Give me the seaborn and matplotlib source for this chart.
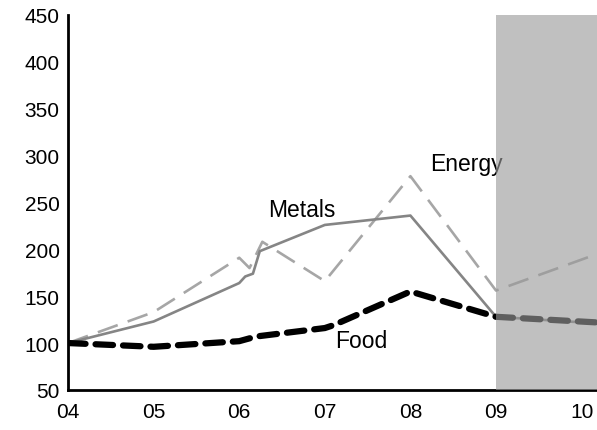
import pandas as pd
import numpy as np
import matplotlib
matplotlib.use("Agg")
import matplotlib.pyplot as plt
import seaborn as sns

# data (x in years since 2000)
metals_x = [4, 5, 6, 6.07, 6.16, 6.24, 7, 8, 9, 10.18]
metals_y = [100, 123, 164, 171, 174, 198, 226, 236, 128, 121]

energy_x = [4, 5, 6, 6.12, 6.27, 7, 8, 9, 10.18]
energy_y = [100, 133, 191, 180, 208, 166, 278, 156, 195]

food_x = [4, 5, 6, 6.2, 7, 7.1, 8, 9, 10.18]
food_y = [100, 96, 102, 107, 116, 119, 155, 128, 122]

tick_years = [4, 5, 6, 7, 8, 9, 10]
tick_labels = ["04", "05", "06", "07", "08", "09", "10"]

sns.set_style("white")
plt.rcParams['font.family'] = ['Liberation Sans', 'DejaVu Sans']

fig = plt.figure(figsize=(5.97, 4.31), dpi=100)
ax = fig.add_axes([0.114, 0.093, 0.886, 0.870])

sns.lineplot(x=energy_x, y=energy_y, ax=ax, color='#a6a6a6', linewidth=1.9,
             sort=False, linestyle=(0, (8, 4)))
sns.lineplot(x=metals_x, y=metals_y, ax=ax, color='#858585', linewidth=1.9, sort=False)
sns.lineplot(x=food_x, y=food_y, ax=ax, color='black', linewidth=4.5, sort=False,
             linestyle=(0, (2.8, 1.6)), dash_capstyle='round')

# forecast shading, drawn over the lines
ax.axvspan(9, 10.18, color='#9a9a9a', alpha=0.62, lw=0, zorder=5)

ax.text(6.73, 242, "Metals", fontsize=16.5, ha='center', va='center', color='black')
ax.text(8.66, 292, "Energy", fontsize=16.5, ha='center', va='center', color='black')
ax.text(7.43, 103, "Food", fontsize=16.5, ha='center', va='center', color='black')

ax.set_xlim(4, 10.18)
ax.set_ylim(50, 450)
ax.set_xticks(tick_years)
ax.set_xticklabels(tick_labels)
ax.set_yticks(range(50, 451, 50))
ax.tick_params(axis='x', direction='in', length=4, width=1, color='black',
               labelsize=15, labelcolor='black', pad=9)
ax.tick_params(axis='y', length=0, labelsize=15, labelcolor='black', pad=6)

sns.despine(ax=ax)
for s in ['left', 'bottom']:
    ax.spines[s].set_linewidth(2)
    ax.spines[s].set_color('black')

fig.savefig("out.png", dpi=100)
